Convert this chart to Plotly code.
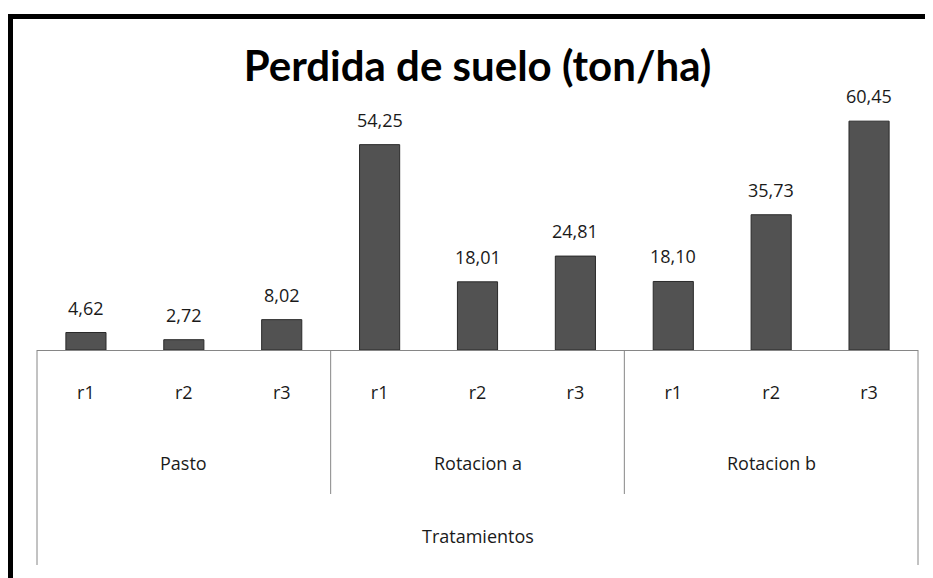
import plotly.graph_objects as go

# Perdida de suelo por tratamiento y repeticion
grupos = ["Pasto", "Rotacion a", "Rotacion b"]
repeticiones = ["r1", "r2", "r3"]
pasto = [4.62, 2.72, 8.02]
rotacion_a = [54.25, 18.01, 24.81]
rotacion_b = [18.10, 35.73, 60.45]

valores = pasto + rotacion_a + rotacion_b
categorias = [g + " " + r for g in grupos for r in repeticiones]
etiquetas = repeticiones * len(grupos)

# la pagina pone 8px de margen al body
W, H = 925, 570
ml, mr, mt, mb = 29, 15, 77, 228
plot_h = H - mt - mb
plot_w = W - ml - mr

fig = go.Figure()
fig.add_trace(go.Bar(
    x=categorias, y=valores,
    marker=dict(color="#525252", line=dict(color="#2a2a2a", width=1)),
    hoverinfo="x+y",
))

# etiquetas de datos con coma decimal
for c, v in zip(categorias, valores):
    fig.add_annotation(x=c, y=v, xref="x", yref="y", yshift=25,
                       text=f"{v:.2f}".replace(".", ","), showarrow=False,
                       font=dict(family="Open Sans", size=18, color="#1a1a1a"))

# nombres de grupo
for i, g in enumerate(grupos):
    fig.add_annotation(x=categorias[i * 3 + 1], xref="x", y=0, yref="paper",
                       yshift=-113, yanchor="middle", text=g, showarrow=False,
                       font=dict(family="Open Sans", size=18, color="#1a1a1a"))

fig.add_annotation(x=0.5, xref="paper", y=0, yref="paper", yshift=-186,
                   yanchor="middle", text="Tratamientos", showarrow=False,
                   font=dict(family="Open Sans", size=18, color="#1a1a1a"))

# divisores del eje
inner = -144 / plot_h
outer = -215 / plot_h
for k in range(len(grupos) + 1):
    xx = k / len(grupos)
    y1 = outer if k in (0, len(grupos)) else inner
    fig.add_shape(type="line", xref="paper", yref="paper", x0=xx, x1=xx,
                  y0=0, y1=y1, line=dict(color="#868686", width=1))

# marco negro (izquierda y arriba)
fx = (2.5 - ml) / plot_w
fy = 1 + (mt - 8.5) / plot_h
fig.add_shape(type="path", xref="paper", yref="paper",
              path=f"M {fx} -1 L {fx} {fy} L 1.1 {fy}",
              line=dict(color="black", width=5))

fig.update_layout(
    width=W, height=H,
    margin=dict(l=ml, r=mr, t=mt, b=mb),
    paper_bgcolor="white", plot_bgcolor="white",
    title=dict(text="<b>Perdida de suelo (ton/ha)</b>", x=0.5, xref="paper",
               y=1 - 58 / H, yanchor="middle",
               font=dict(family="Lato", size=42, color="black")),
    bargap=0.59,
    showlegend=False,
    xaxis=dict(type="category", tickmode="array", tickvals=categorias,
               ticktext=etiquetas, ticks="", showline=True,
               linecolor="#868686", linewidth=1, showgrid=False,
               ticklabelstandoff=26,
               tickfont=dict(family="Open Sans", size=18, color="#1a1a1a")),
    yaxis=dict(range=[0, 70], visible=False, showgrid=False),
)

fig.write_html("out.html")
